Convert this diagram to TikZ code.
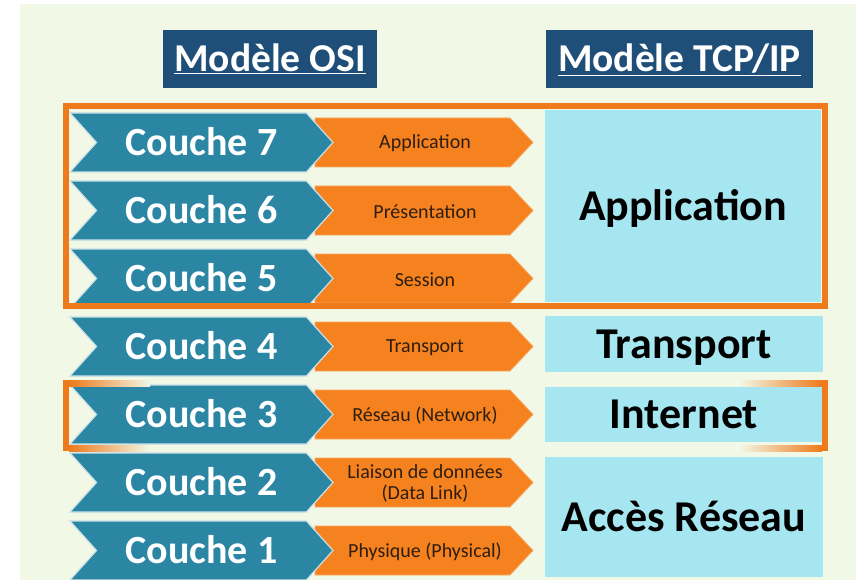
\documentclass[tikz,border=0pt]{standalone}
\usepackage{fontspec}
\setmainfont{Carlito}
\usepackage{tikz}
\usepackage{xcolor}
\usetikzlibrary{positioning, calc, shapes.symbols}

\definecolor{fond}{HTML}{F1F8E5}
\definecolor{bleutitre}{HTML}{1F4E79}
\definecolor{sarcelle}{HTML}{2A86A3}
\definecolor{orangec}{HTML}{F5821F}
\definecolor{cadre}{HTML}{EE7A1C}
\definecolor{ciel}{HTML}{A6E6F1}
\definecolor{brun}{HTML}{2E1E10}

\tikzset{
  titre/.style={fill=bleutitre, text=white, font=\bfseries\fontsize{39.5}{41}\selectfont,
    text height=25.4pt, text depth=0pt, minimum height=58pt, inner sep=0pt},
  couche/.style={signal, signal to=east, signal from=west, signal pointer angle=96,
    fill=sarcelle, draw=white!75!sarcelle, line width=1.2pt, text=white,
    font=\bfseries\fontsize{40}{42}\selectfont, text height=25.8pt, text depth=0pt,
    minimum width=263pt, minimum height=59pt, inner sep=0pt},
  proto/.style={fill=orangec, draw=orangec!70!white, line width=.8pt},
  protolbl/.style={text=brun, font=\fontsize{20}{21}\selectfont, align=center, inner sep=0pt},
  tcp/.style={fill=ciel, text=black, font=\bfseries\fontsize{44}{46}\selectfont,
    text height=28.3pt, text depth=0pt, inner sep=0pt}
}

\begin{document}
\begin{tikzpicture}[x=1pt, y=-1pt]
  \useasboundingbox (0,0) rectangle (856,580);
  \fill[fond] (20,4) rectangle (856,580);

  % titres
  \node[titre, minimum width=214pt] (osi) at (270,59) {\underline{Modèle OSI}};
  \node[titre, minimum width=267pt] (tcpip) at (679.5,59) {\underline{Modèle TCP/IP}};

  % colonne TCP/IP
  \node[tcp, minimum width=276pt, minimum height=192pt] (app) at (683,206) {Application};
  \node[tcp, minimum width=278pt, minimum height=56pt] (transport) at (684,344) {Transport};
  \node[tcp, minimum width=278pt, minimum height=55pt] (internet) at (684,414.5) {Internet};
  \node[tcp, minimum width=278pt, minimum height=120pt] (acces) at (684,517) {Accès Réseau};

  % couches OSI
  \foreach \n/\y/\nom in {7/142.5/Application, 6/210.5/Présentation, 5/278.5/Session,
      4/346.5/Transport, 3/414.5/Réseau (Network), 2/482.5/{Liaison de données\\(Data Link)},
      1/550.5/Physique (Physical)} {
    \filldraw[proto] (315,\y-24.5) -- (510,\y-24.5) -- (533,\y) -- (510,\y+24.5)
      -- (315,\y+24.5) -- cycle;
    \node[protolbl] (proto\n) at (425,\y+1) {\nom};
    \node[couche] (couche\n) at (201.5,\y) {Couche \n};
  }

  % cadre des couches hautes
  \draw[cadre, line width=6pt] (66,106) rectangle (825,306);

  % cadre de la couche 3
  \fill[cadre] (63,380) rectangle (69,451);
  \fill[left color=cadre, right color=fond] (69,380) rectangle (150,386);
  \fill[left color=cadre, right color=fond] (69,445) rectangle (150,451);
  \fill[cadre] (822,380) rectangle (828,451);
  \fill[right color=cadre, left color=fond] (740,380) rectangle (822,386);
  \fill[right color=cadre, left color=fond] (740,445) rectangle (822,451);
\end{tikzpicture}
\end{document}
